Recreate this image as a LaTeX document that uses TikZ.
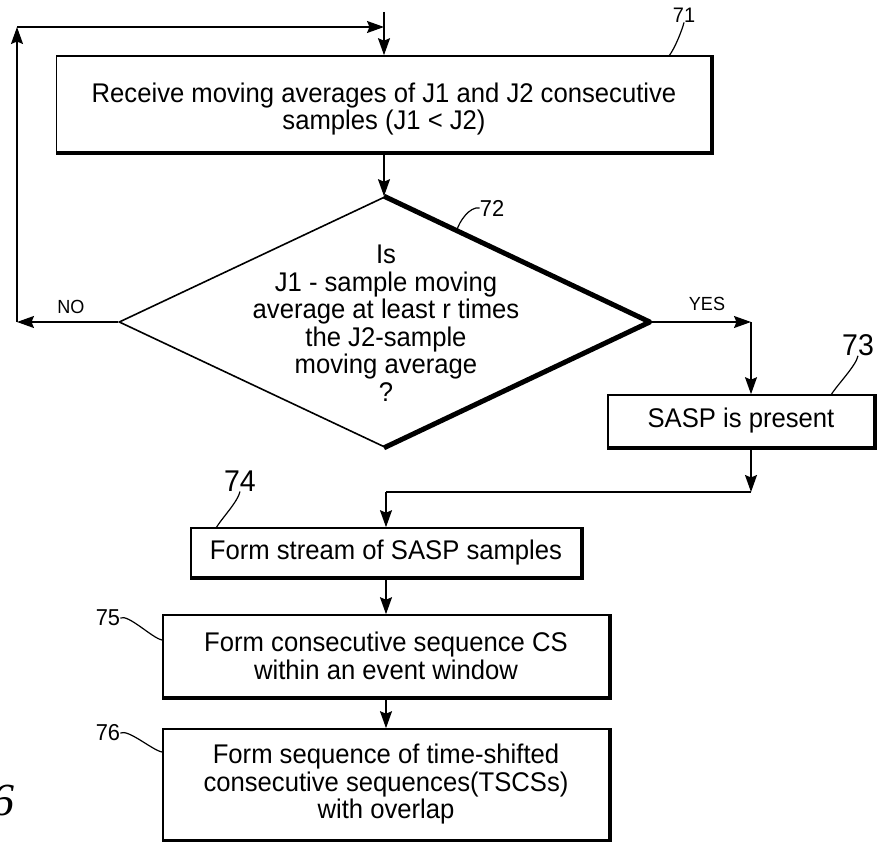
\documentclass[tikz,border=0pt]{standalone}
\usepackage{fontspec}
\setmainfont{Liberation Sans}[FakeStretch=0.95]
\newfontfamily\figfont{Liberation Serif}
\usetikzlibrary{shapes.geometric,arrows.meta}
\begin{document}
\begin{tikzpicture}[x=1pt,y=-1pt,
  font=\fontsize{27}{27.5}\selectfont,
  thinln/.style={line width=1.6pt},
  shade/.style={line width=3.8pt,line join=miter},
  box/.style={draw,thinln,inner sep=0pt,align=center},
  arr/.style={thinln,-{Stealth[length=17pt,width=12pt,inset=2.5pt]}},
  lbl/.style={inner sep=0pt},
  lead/.style={line width=1.2pt}
]
\useasboundingbox (0,0) rectangle (878,842);

% boxes
\node[box,minimum width=655pt,minimum height=96pt] (b71) at (384,104) {};
\draw[shade] (b71.north east) -- (b71.south east) -- (b71.south west);
\node[align=center,inner sep=0pt] (t71) at (384,109)
  {Receive moving averages of J1 and J2 consecutive\\samples (J1 < J2)};

\node[draw,thinln,diamond,minimum width=530pt,minimum height=250pt,inner sep=0pt] (d72) at (384,322) {};
\draw[line width=5pt,line join=round] (d72.north) -- (d72.east) -- (d72.south);
\node[align=center,inner sep=0pt] (t72) at (386,323)
  {Is\\J1 - sample moving\\average at least r times\\the J2-sample\\moving average\\?};

\node[box,minimum width=266pt,minimum height=52pt] (b73) at (741,421) {SASP is present};
\draw[shade] (b73.north east) -- (b73.south east) -- (b73.south west);

\node[box,minimum width=390pt,minimum height=49pt] (b74) at (386,552.5) {Form stream of SASP samples};
\draw[shade] (b74.north east) -- (b74.south east) -- (b74.south west);

\node[box,minimum width=446pt,minimum height=82pt] (b75) at (386,656)
  {Form consecutive sequence CS\\within an event window};
\draw[shade] (b75.north east) -- (b75.south east) -- (b75.south west);

\node[box,minimum width=446pt,minimum height=111pt] (b76) at (386,784.5)
  {Form sequence of time-shifted\\consecutive sequences(TSCSs)\\with overlap};
\draw[shade] (b76.north east) -- (b76.south east) -- (b76.south west);

% connectors
\coordinate (top) at (384,12);
\draw[arr] (top) -- (b71.north);
\draw[arr] (b71.south) -- (d72.north);

\coordinate (nc) at (17,322);
\coordinate (tc) at (17,27);
\coordinate (tj) at (384,27);
\draw[arr] (d72.west) -- (nc);
\draw[arr] (nc) -- (tc);
\draw[arr] (tc) -- (tj);
\node[lbl,font=\fontsize{19}{19}\selectfont] (no) at (71,307) {NO};

\coordinate (yc) at (751,322);
\draw[arr] (d72.east) -- (yc);
\draw[arr] (yc) -- (yc |- b73.north);
\node[lbl,font=\fontsize{19}{19}\selectfont] (yes) at (707,304) {YES};

\coordinate (mr) at (751,492);
\coordinate (ml) at (386,492);
\draw[arr] (mr |- b73.south) -- (mr);
\draw[thinln] (mr) -- (ml);
\draw[arr] (ml) -- (b74.north);
\draw[arr] (b74.south) -- (b75.north);
\draw[arr] (b75.south) -- (b76.north);

% reference labels
\node[lbl,font=\fontsize{21}{21}\selectfont] (l71) at (684,15) {71};
\coordinate (e71) at (669,56);
\draw[lead] (l71.south) .. controls +(-2,8) and +(6,-8) .. (e71);

\node[lbl,font=\fontsize{23}{23}\selectfont] (l72) at (492,208) {72};
\coordinate (e72) at (457,230);
\draw[lead] (l72.west) .. controls +(-10,-2) and +(2,-8) .. (e72);

\node[lbl,font=\fontsize{30}{30}\selectfont] (l73) at (858,345) {73};
\coordinate (e73) at (831,395);
\draw[lead] (l73.south) .. controls +(-2,10) and +(6,-10) .. (e73);

\node[lbl,font=\fontsize{30}{30}\selectfont] (l74) at (240,481) {74};
\coordinate (e74) at (216,528);
\draw[lead] (l74.south) .. controls +(-2,10) and +(6,-10) .. (e74);

\node[lbl,font=\fontsize{23}{23}\selectfont] (l75) at (108,618) {75};
\coordinate (e75) at (162,640);
\draw[lead] (l75.east) .. controls +(8,-4) and +(-10,-2) .. (e75);

\node[lbl,font=\fontsize{23}{23}\selectfont] (l76) at (108,733) {76};
\coordinate (e76) at (162,752);
\draw[lead] (l76.east) .. controls +(8,-4) and +(-10,-2) .. (e76);

\node[lbl,anchor=east,font=\figfont\itshape\fontsize{46}{46}\selectfont] (fig) at (15,800) {6};
\end{tikzpicture}
\end{document}
